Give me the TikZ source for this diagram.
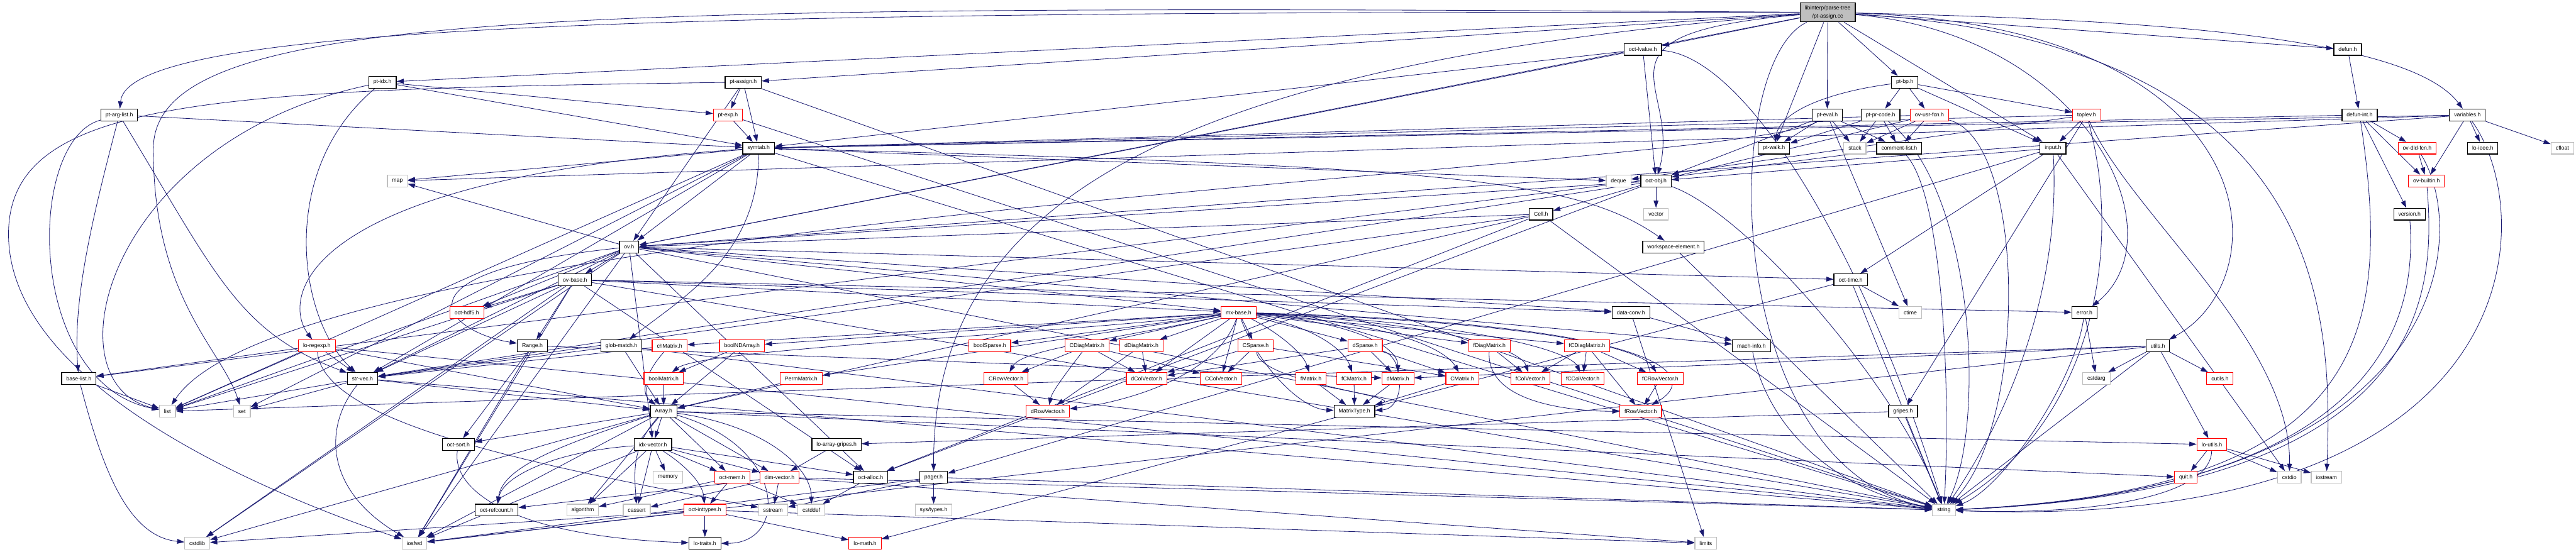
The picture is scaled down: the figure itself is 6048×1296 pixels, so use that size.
\documentclass[tikz,border=0pt]{standalone}
\usepackage{fontspec}
\setmainfont{Liberation Sans}
\usetikzlibrary{arrows.meta,backgrounds}
\definecolor{edgeblue}{HTML}{191970}
\definecolor{sysframe}{HTML}{BFBFBF}
\definecolor{rootfill}{HTML}{BFBFBF}
\definecolor{trunced}{HTML}{FF0000}
\tikzset{
  base/.style={font=\fontsize{9.5}{11}\selectfont,rectangle,fill=white,inner xsep=2.85mm,inner ysep=0.5mm,minimum height=7.2mm,line width=1.3pt},
  hdr/.style={base,draw=black},
  trunc/.style={base,draw=trunced},
  sysh/.style={base,draw=sysframe},
  srcfile/.style={base,fill=rootfill,draw=black,align=center,minimum height=11.6mm,font=\fontsize{9.5}{13.3}\selectfont},
  inc/.style={-{Triangle[length=4.4mm,width=2.9mm]},draw=edgeblue,line width=0.9pt}
}
\begin{document}
\begin{tikzpicture}[x=0.2593mm,y=0.2593mm]
\useasboundingbox (0,0) rectangle (6048,-1296);

\node[srcfile] (root) at (4291,-29) {libinterp/parse-tree\\/pt-assign.cc};
\node[hdr] (octlvalue) at (3857,-116) {oct-lvalue.h};
\node[hdr] (defun) at (5512,-116) {defun.h};
\node[hdr] (ptidx) at (898,-193) {pt-idx.h};
\node[hdr] (ptassign) at (1745,-193) {pt-assign.h};
\node[hdr] (ptbp) at (4472,-193) {pt-bp.h};
\node[hdr] (ptarglist) at (280,-270) {pt-arg-list.h};
\node[trunc] (ptexp) at (1709,-270) {pt-exp.h};
\node[hdr] (pteval) at (4290,-270) {pt-eval.h};
\node[hdr] (ptprcode) at (4415,-270) {pt-pr-code.h};
\node[trunc] (ovusrfcn) at (4530,-270) {ov-usr-fcn.h};
\node[trunc] (toplev) at (4899,-270) {toplev.h};
\node[hdr] (defunint) at (5540,-270) {defun-int.h};
\node[hdr] (variables) at (5793,-270) {variables.h};
\node[hdr] (symtab) at (1781,-348) {symtab.h};
\node[hdr] (ptwalk) at (4165,-348) {pt-walk.h};
\node[sysh] (stack) at (4355,-348) {stack};
\node[hdr] (commentlist) at (4459,-348) {comment-list.h};
\node[hdr] (input) at (4820,-348) {input.h};
\node[trunc] (ovdldfcn) at (5675,-348) {ov-dld-fcn.h};
\node[hdr] (loieee) at (5829,-348) {lo-ieee.h};
\node[sysh] (cfloat) at (6016,-348) {cfloat};
\node[sysh] (map) at (933,-425) {map};
\node[sysh] (deque) at (3800,-425) {deque};
\node[hdr] (octobj) at (3888,-425) {oct-obj.h};
\node[trunc] (ovbuiltin) at (5697,-425) {ov-builtin.h};
\node[hdr] (cell) at (3618,-503) {Cell.h};
\node[sysh] (vector) at (3888,-503) {vector};
\node[hdr] (version) at (5657,-503) {version.h};
\node[hdr] (ov) at (1477,-580) {ov.h};
\node[hdr] (wselem) at (3929,-580) {workspace-element.h};
\node[hdr] (ovbase) at (1350,-657) {ov-base.h};
\node[hdr] (octtime) at (4345,-657) {oct-time.h};
\node[trunc] (octhdf5) at (1096,-734) {oct-hdf5.h};
\node[trunc] (mxbase) at (2908,-734) {mx-base.h};
\node[hdr] (dataconv) at (3829,-734) {data-conv.h};
\node[sysh] (ctime) at (4485,-734) {ctime};
\node[hdr] (error) at (4894,-734) {error.h};
\node[trunc] (loregexp) at (744,-812) {lo-regexp.h};
\node[hdr] (range) at (1250,-812) {Range.h};
\node[hdr] (globmatch) at (1459,-812) {glob-match.h};
\node[trunc] (chmatrix) at (1572,-812) {chMatrix.h};
\node[trunc] (boolndarray) at (1742,-812) {boolNDArray.h};
\node[trunc] (boolsparse) at (2324,-812) {boolSparse.h};
\node[trunc] (cdiagmatrix) at (2552,-812) {CDiagMatrix.h};
\node[trunc] (ddiagmatrix) at (2680,-812) {dDiagMatrix.h};
\node[trunc] (csparse) at (2948,-812) {CSparse.h};
\node[trunc] (dsparse) at (3205,-812) {dSparse.h};
\node[trunc] (fdiagmatrix) at (3497,-812) {fDiagMatrix.h};
\node[trunc] (fcdiagmatrix) at (3726,-812) {fCDiagMatrix.h};
\node[hdr] (machinfo) at (4112,-812) {mach-info.h};
\node[hdr] (utils) at (5066,-812) {utils.h};
\node[hdr] (baselist) at (185,-889) {base-list.h};
\node[hdr] (strvec) at (851,-889) {str-vec.h};
\node[trunc] (boolmatrix) at (1558,-889) {boolMatrix.h};
\node[trunc] (permmatrix) at (1881,-889) {PermMatrix.h};
\node[trunc] (crowvector) at (2362,-889) {CRowVector.h};
\node[trunc] (dcolvector) at (2692,-889) {dColVector.h};
\node[trunc] (ccolvector) at (2867,-889) {CColVector.h};
\node[trunc] (fmatrix) at (3078,-889) {fMatrix.h};
\node[trunc] (fcmatrix) at (3179,-889) {fCMatrix.h};
\node[trunc] (dmatrix) at (3282,-889) {dMatrix.h};
\node[trunc] (cmatrix) at (3433,-889) {CMatrix.h};
\node[trunc] (fcolvector) at (3593,-889) {fColVector.h};
\node[trunc] (fccolvector) at (3716,-889) {fCColVector.h};
\node[trunc] (fcrowvector) at (3898,-889) {fCRowVector.h};
\node[sysh] (cstdarg) at (4922,-889) {cstdarg};
\node[trunc] (cutils) at (5212,-889) {cutils.h};
\node[sysh] (list) at (393,-966) {list};
\node[sysh] (set) at (568,-966) {set};
\node[hdr] (array) at (1558,-966) {Array.h};
\node[trunc] (drowvector) at (2460,-966) {dRowVector.h};
\node[hdr] (matrixtype) at (3180,-966) {MatrixType.h};
\node[trunc] (frowvector) at (3852,-966) {fRowVector.h};
\node[hdr] (gripes) at (4468,-966) {gripes.h};
\node[hdr] (octsort) at (1076,-1044) {oct-sort.h};
\node[hdr] (idxvector) at (1533,-1044) {idx-vector.h};
\node[hdr] (loarraygripes) at (1964,-1044) {lo-array-gripes.h};
\node[trunc] (loutils) at (5193,-1044) {lo-utils.h};
\node[sysh] (memory) at (1568,-1121) {memory};
\node[trunc] (octmem) at (1719,-1121) {oct-mem.h};
\node[trunc] (dimvector) at (1830,-1121) {dim-vector.h};
\node[hdr] (octalloc) at (2044,-1121) {oct-alloc.h};
\node[hdr] (pager) at (2192,-1121) {pager.h};
\node[trunc] (quit) at (5132,-1121) {quit.h};
\node[sysh] (cstdio) at (5375,-1121) {cstdio};
\node[sysh] (iostream) at (5462,-1121) {iostream};
\node[hdr] (octrefcount) at (1166,-1198) {oct-refcount.h};
\node[sysh] (algorithm) at (1368,-1198) {algorithm};
\node[sysh] (cassert) at (1495,-1198) {cassert};
\node[trunc] (octinttypes) at (1655,-1198) {oct-inttypes.h};
\node[sysh] (sstream) at (1815,-1198) {sstream};
\node[sysh] (cstddef) at (1905,-1198) {cstddef};
\node[sysh] (systypes) at (2192,-1198) {sys/types.h};
\node[sysh] (string) at (4564,-1198) {string};
\node[sysh] (cstdlib) at (463,-1276) {cstdlib};
\node[sysh] (iosfwd) at (973,-1276) {iosfwd};
\node[hdr] (lotraits) at (1655,-1276) {lo-traits.h};
\node[trunc] (lomath) at (2031,-1276) {lo-math.h};
\node[sysh] (limits) at (4005,-1276) {limits};

\begin{scope}[on background layer]
\draw[inc] (root) -- (octlvalue);
\draw[inc] (root) -- (ptbp);
\draw[inc] (root) -- (pteval);
\draw[inc] (root) -- (ptwalk);
\draw[inc] (root) -- (input);
\draw[inc] (root) -- (defun);
\draw[inc] (root) .. controls (5000,-45) and (5650,-80) .. (variables);
\draw[inc] (root) -- (ptassign);
\draw[inc] (root) -- (ptidx);
\draw[inc] (root) .. controls (1500,-25) and (300,-60) .. (ptarglist);
\draw[inc] (root) .. controls (3700,-80) and (3950,-200) .. (octobj);
\draw[inc] (root) -- (ov);
\draw[inc] (root) .. controls (5330,-60) and (5360,-650) .. (utils);
\draw[inc] (root) .. controls (4900,-80) and (5120,-550) .. (error);
\draw[inc] (root) .. controls (2700,-150) and (2190,-500) .. (pager);
\draw[inc] (root) .. controls (4035,-150) and (4040,-1100) .. (string);
\draw[inc] (root) .. controls (5440,-100) and (5480,-700) .. (iostream);
\draw[inc] (root) .. controls (1300,-10) and (360,-20) .. (360,-350) .. controls (360,-700) and (520,-820) .. (set);

\draw[inc] (ptbp) -- (ptprcode);
\draw[inc] (ptbp) -- (ovusrfcn);
\draw[inc] (ptbp) -- (toplev);
\draw[inc] (ptbp) -- (input);
\draw[inc] (ptbp) .. controls (4300,-215) and (4180,-260) .. (ptwalk);

\draw[inc] (pteval) -- (ptwalk);
\draw[inc] (pteval) -- (stack);
\draw[inc] (pteval) -- (commentlist);
\draw[inc] (pteval) -- (ctime);
\draw[inc] (pteval) -- (octobj);
\draw[inc] (pteval) .. controls (4100,-400) and (700,-500) .. (list);

\draw[inc] (ptprcode) -- (ptwalk);
\draw[inc] (ptprcode) -- (stack);
\draw[inc] (ptprcode) -- (commentlist);
\draw[inc] (ptprcode) .. controls (4640,-450) and (4660,-1000) .. (string);

\draw[inc] (ovusrfcn) -- (stack);
\draw[inc] (ovusrfcn) -- (commentlist);
\draw[inc] (ovusrfcn) -- (symtab);
\draw[inc] (ovusrfcn) -- (octobj);
\draw[inc] (ovusrfcn) .. controls (4760,-330) and (4760,-1000) .. (string);

\draw[inc] (toplev) -- (input);
\draw[inc] (toplev) -- (symtab);
\draw[inc] (toplev) -- (deque);
\draw[inc] (toplev) -- (gripes);
\draw[inc] (toplev) .. controls (5000,-500) and (5380,-800) .. (cstdio);
\draw[inc] (toplev) .. controls (4990,-600) and (4900,-1000) .. (string);

\draw[inc] (input) -- (octtime);
\draw[inc] (input) -- (octobj);
\draw[inc] (input) -- (pager);
\draw[inc] (input) -- (cstdio);
\draw[inc] (input) .. controls (4840,-700) and (4700,-1000) .. (string);

\draw[inc] (commentlist) -- (baselist);
\draw[inc] (commentlist) .. controls (4560,-450) and (4580,-900) .. (string);

\draw[inc] (octlvalue) -- (octobj);
\draw[inc] (octlvalue) -- (symtab);
\draw[inc] (octlvalue) -- (ov);
\draw[inc] (octlvalue) .. controls (4100,-130) and (4380,-600) .. (string);

\draw[inc] (octobj) -- (vector);
\draw[inc] (octobj) -- (cell);
\draw[inc] (octobj) -- (ov);
\draw[inc] (octobj) -- (strvec);
\draw[inc] (octobj) -- (octalloc);
\draw[inc] (octobj) .. controls (4100,-500) and (4450,-900) .. (string);

\draw[inc] (cell) -- (array);
\draw[inc] (cell) -- (ov);
\draw[inc] (cell) -- (strvec);
\draw[inc] (cell) -- (octalloc);
\draw[inc] (cell) -- (string);
\draw[inc] (wselem) -- (string);

\draw[inc] (defun) -- (defunint);
\draw[inc] (defunint) -- (ovdldfcn);
\draw[inc] (defunint) -- (ovbuiltin);
\draw[inc] (defunint) -- (version);
\draw[inc] (defunint) -- (symtab);
\draw[inc] (defunint) .. controls (5620,-800) and (5550,-1150) .. (string);

\draw[inc] (variables) -- (ovbuiltin);
\draw[inc] (variables) -- (loieee);
\draw[inc] (variables) -- (cfloat);
\draw[inc] (variables) -- (symtab);
\draw[inc] (variables) -- (ov);
\draw[inc] (variables) -- (map);
\draw[inc] (variables) .. controls (5960,-500) and (5960,-1250) .. (string);
\draw[inc] (ovdldfcn) -- (ovbuiltin);
\draw[inc] (ovdldfcn) .. controls (5800,-550) and (5760,-1150) .. (string);
\draw[inc] (ovbuiltin) .. controls (5720,-700) and (5700,-1150) .. (string);
\draw[inc] (version) .. controls (5670,-700) and (5650,-1150) .. (string);

\draw[inc] (ptassign) -- (ptexp);
\draw[inc] (ptassign) -- (symtab);
\draw[inc] (ptassign) -- (ov);
\draw[inc] (ptassign) -- (string);
\draw[inc] (ptassign) .. controls (500,-210) and (20,-230) .. (20,-550) .. controls (20,-900) and (600,-1150) .. (iosfwd);
\draw[inc] (ptexp) -- (symtab);
\draw[inc] (ptexp) -- (string);

\draw[inc] (ptidx) -- (ptexp);
\draw[inc] (ptidx) -- (symtab);
\draw[inc] (ptidx) .. controls (250,-330) and (110,-900) .. (list);
\draw[inc] (ptidx) .. controls (650,-400) and (700,-750) .. (strvec);

\draw[inc] (ptarglist) .. controls (220,-500) and (170,-700) .. (baselist);
\draw[inc] (ptarglist) .. controls (60,-330) and (60,-900) .. (list);
\draw[inc] (ptarglist) .. controls (510,-650) and (560,-780) .. (strvec);
\draw[inc] (ptarglist) -- (symtab);

\draw[inc] (symtab) -- (ov);
\draw[inc] (symtab) -- (map);
\draw[inc] (symtab) -- (set);
\draw[inc] (symtab) -- (list);
\draw[inc] (symtab) -- (deque);
\draw[inc] (symtab) -- (strvec);
\draw[inc] (symtab) .. controls (700,-420) and (660,-700) .. (loregexp);
\draw[inc] (symtab) .. controls (1781,-600) and (1600,-700) .. (globmatch);
\draw[inc] (symtab) .. controls (3400,-390) and (3700,-420) .. (wselem);
\draw[inc] (symtab) -- (string);

\draw[inc] (ov) -- (ovbase);
\draw[inc] (ov) -- (map);
\draw[inc] (ov) -- (list);
\draw[inc] (ov) -- (strvec);
\draw[inc] (ov) -- (iosfwd);
\draw[inc] (ov) -- (cstdlib);
\draw[inc] (ov) -- (string);
\draw[inc] (ov) -- (dataconv);
\draw[inc] (ov) -- (idxvector);
\draw[inc] (ov) -- (machinfo);
\draw[inc] (ov) -- (mxbase);
\draw[inc] (ov) -- (octalloc);
\draw[inc] (ov) -- (octtime);
\draw[inc] (ov) -- (octhdf5);
\draw[inc] (ov) .. controls (900,-640) and (1050,-780) .. (range);

\draw[inc] (ovbase) -- (octhdf5);
\draw[inc] (ovbase) -- (range);
\draw[inc] (ovbase) -- (mxbase);
\draw[inc] (ovbase) -- (dataconv);
\draw[inc] (ovbase) -- (strvec);
\draw[inc] (ovbase) -- (list);
\draw[inc] (ovbase) -- (iosfwd);
\draw[inc] (ovbase) -- (cstdlib);
\draw[inc] (ovbase) -- (string);
\draw[inc] (ovbase) -- (error);
\draw[inc] (ovbase) -- (octalloc);

\draw[inc] (range) -- (octsort);
\draw[inc] (range) -- (dmatrix);
\draw[inc] (range) -- (iosfwd);
\draw[inc] (globmatch) -- (array);
\draw[inc] (globmatch) -- (strvec);
\draw[inc] (globmatch) -- (string);
\draw[inc] (chmatrix) .. controls (1520,-870) and (1500,-920) .. (array);
\draw[inc] (chmatrix) -- (strvec);
\draw[inc] (boolndarray) -- (boolmatrix);
\draw[inc] (boolndarray) -- (array);
\draw[inc] (boolmatrix) -- (array);
\draw[inc] (permmatrix) -- (array);

\draw[inc] (array) -- (octsort);
\draw[inc] (array) -- (idxvector);
\draw[inc] (array) .. controls (1300,-1050) and (1180,-1100) .. (octrefcount);
\draw[inc] (array) -- (algorithm);
\draw[inc] (array) .. controls (1480,-1050) and (1490,-1120) .. (cassert);
\draw[inc] (array) -- (octmem);
\draw[inc] (array) -- (dimvector);
\draw[inc] (array) .. controls (1800,-1000) and (1905,-1100) .. (cstddef);
\draw[inc] (array) .. controls (1850,-1050) and (1850,-1276) .. (lotraits);
\draw[inc] (array) -- (iosfwd);
\draw[inc] (array) -- (cstdlib);
\draw[inc] (array) -- (quit);
\draw[inc] (array) -- (loutils);

\draw[inc] (idxvector) -- (algorithm);
\draw[inc] (idxvector) -- (cassert);
\draw[inc] (idxvector) -- (memory);
\draw[inc] (idxvector) .. controls (1620,-1100) and (1650,-1140) .. (octinttypes);
\draw[inc] (idxvector) -- (octmem);
\draw[inc] (idxvector) -- (dimvector);
\draw[inc] (idxvector) -- (octalloc);
\draw[inc] (idxvector) .. controls (1300,-1060) and (1180,-1120) .. (octrefcount);
\draw[inc] (idxvector) -- (iosfwd);

\draw[inc] (octsort) .. controls (1060,-1150) and (1200,-1260) .. (lotraits);
\draw[inc] (loarraygripes) -- (dimvector);
\draw[inc] (octmem) -- (algorithm);
\draw[inc] (octmem) -- (octinttypes);
\draw[inc] (octmem) -- (cstddef);
\draw[inc] (dimvector) -- (cassert);
\draw[inc] (dimvector) -- (sstream);
\draw[inc] (dimvector) -- (octrefcount);
\draw[inc] (dimvector) -- (limits);
\draw[inc] (dimvector) -- (string);
\draw[inc] (octalloc) -- (cstddef);
\draw[inc] (octinttypes) -- (lotraits);
\draw[inc] (octinttypes) -- (lomath);
\draw[inc] (octinttypes) -- (iosfwd);
\draw[inc] (octinttypes) -- (cstdlib);
\draw[inc] (octinttypes) -- (limits);
\draw[inc] (pager) -- (systypes);
\draw[inc] (pager) -- (iosfwd);
\draw[inc] (pager) -- (sstream);
\draw[inc] (pager) -- (string);

\draw[inc] (mxbase) -- (chmatrix);
\draw[inc] (mxbase) -- (boolndarray);
\draw[inc] (mxbase) .. controls (2400,-790) and (1650,-820) .. (boolmatrix);
\draw[inc] (mxbase) -- (permmatrix);
\draw[inc] (mxbase) -- (boolsparse);
\draw[inc] (mxbase) -- (cdiagmatrix);
\draw[inc] (mxbase) -- (ddiagmatrix);
\draw[inc] (mxbase) -- (csparse);
\draw[inc] (mxbase) .. controls (2600,-800) and (2400,-820) .. (crowvector);
\draw[inc] (mxbase) -- (dcolvector);
\draw[inc] (mxbase) -- (ccolvector);
\draw[inc] (mxbase) .. controls (2850,-900) and (2600,-950) .. (drowvector);
\draw[inc] (mxbase) -- (dsparse);
\draw[inc] (mxbase) -- (fdiagmatrix);
\draw[inc] (mxbase) -- (fcdiagmatrix);
\draw[inc] (mxbase) .. controls (3000,-780) and (3060,-830) .. (fmatrix);
\draw[inc] (mxbase) .. controls (3100,-770) and (3160,-830) .. (fcmatrix);
\draw[inc] (mxbase) .. controls (3200,-760) and (3282,-820) .. (dmatrix);
\draw[inc] (mxbase) .. controls (3300,-760) and (3400,-830) .. (cmatrix);
\draw[inc] (mxbase) .. controls (3400,-760) and (3570,-820) .. (fcolvector);
\draw[inc] (mxbase) .. controls (3500,-760) and (3690,-830) .. (fccolvector);
\draw[inc] (mxbase) .. controls (3700,-760) and (3860,-830) .. (fcrowvector);
\draw[inc] (mxbase) .. controls (3900,-760) and (4000,-880) .. (frowvector);
\draw[inc] (mxbase) .. controls (2950,-850) and (3050,-960) .. (matrixtype);

\draw[inc] (cdiagmatrix) -- (crowvector);
\draw[inc] (cdiagmatrix) .. controls (2500,-880) and (2470,-920) .. (drowvector);
\draw[inc] (cdiagmatrix) -- (dcolvector);
\draw[inc] (cdiagmatrix) -- (ccolvector);
\draw[inc] (ddiagmatrix) -- (dcolvector);
\draw[inc] (ddiagmatrix) -- (drowvector);
\draw[inc] (csparse) -- (dcolvector);
\draw[inc] (csparse) -- (ccolvector);
\draw[inc] (csparse) -- (cmatrix);
\draw[inc] (csparse) .. controls (2960,-900) and (3300,-930) .. (matrixtype);
\draw[inc] (crowvector) -- (drowvector);
\draw[inc] (dsparse) -- (dmatrix);
\draw[inc] (dsparse) -- (cmatrix);
\draw[inc] (dsparse) .. controls (3300,-840) and (3300,-960) .. (matrixtype);
\draw[inc] (dsparse) -- (dcolvector);
\draw[inc] (fdiagmatrix) -- (fcolvector);
\draw[inc] (fdiagmatrix) .. controls (3490,-950) and (3700,-966) .. (frowvector);
\draw[inc] (fcdiagmatrix) -- (fcolvector);
\draw[inc] (fcdiagmatrix) -- (fccolvector);
\draw[inc] (fcdiagmatrix) -- (fcrowvector);
\draw[inc] (fcdiagmatrix) -- (frowvector);
\draw[inc] (fcrowvector) -- (frowvector);
\draw[inc] (fmatrix) -- (matrixtype);
\draw[inc] (fcmatrix) -- (matrixtype);
\draw[inc] (dmatrix) -- (matrixtype);
\draw[inc] (cmatrix) -- (matrixtype);

\draw[inc] (dataconv) -- (machinfo);
\draw[inc] (dataconv) -- (limits);
\draw[inc] (machinfo) .. controls (4150,-1000) and (4300,-1150) .. (string);
\draw[inc] (octtime) -- (ctime);
\draw[inc] (octtime) -- (lomath);
\draw[inc] (octtime) -- (string);
\draw[inc] (gripes) -- (loarraygripes);
\draw[inc] (gripes) -- (string);
\draw[inc] (error) -- (cstdarg);
\draw[inc] (error) .. controls (4870,-900) and (4700,-1150) .. (string);
\draw[inc] (utils) -- (cutils);
\draw[inc] (utils) -- (loutils);
\draw[inc] (utils) -- (cstdarg);
\draw[inc] (utils) -- (dmatrix);
\draw[inc] (utils) -- (string);
\draw[inc] (utils) -- (list);
\draw[inc] (utils) -- (iosfwd);
\draw[inc] (loutils) -- (quit);
\draw[inc] (loutils) -- (cstdio);
\draw[inc] (loutils) -- (iostream);
\draw[inc] (loutils) .. controls (5190,-1170) and (4900,-1210) .. (string);

\draw[inc] (loregexp) -- (baselist);
\draw[inc] (loregexp) -- (strvec);
\draw[inc] (loregexp) -- (list);
\draw[inc] (loregexp) -- (array);
\draw[inc] (loregexp) .. controls (760,-1000) and (1300,-1100) .. (sstream);
\draw[inc] (loregexp) -- (string);
\draw[inc] (baselist) -- (list);
\draw[inc] (baselist) .. controls (240,-1100) and (300,-1260) .. (cstdlib);
\draw[inc] (strvec) -- (list);
\draw[inc] (strvec) -- (set);
\draw[inc] (strvec) .. controls (760,-1000) and (760,-1150) .. (iosfwd);
\draw[inc] (strvec) -- (string);
\draw[inc] (strvec) -- (array);
\end{scope}
\end{tikzpicture}
\end{document}
